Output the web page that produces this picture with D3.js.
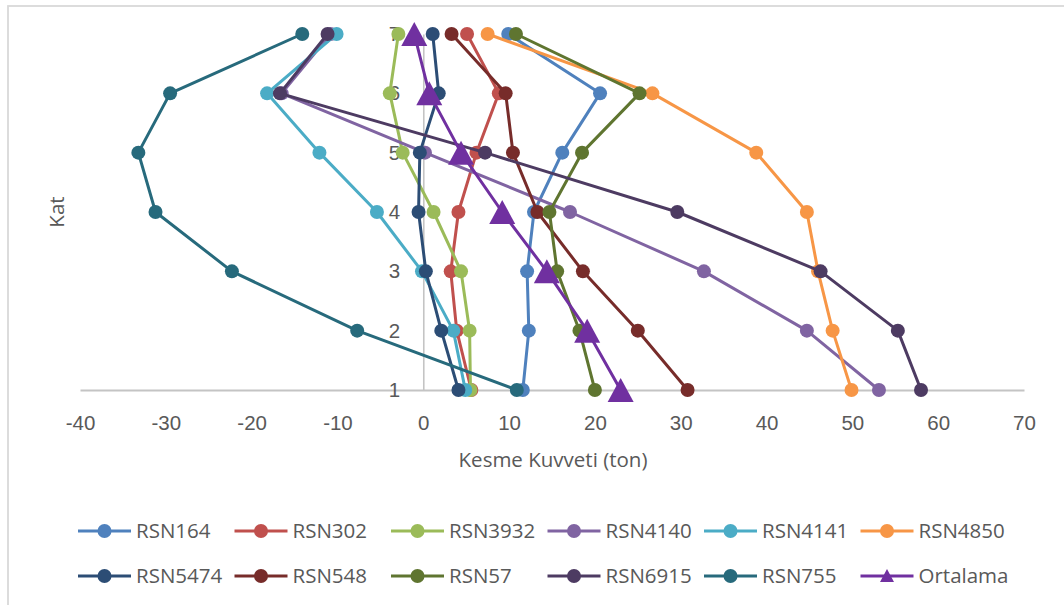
<!DOCTYPE html>
<html>
<head>
<meta charset="utf-8">
<script src="https://cdn.jsdelivr.net/npm/d3@7/dist/d3.min.js"></script>
<style>
  html, body { margin: 0; padding: 0; background: #fff; }
  svg { display: block; font-family: "Open Sans", "Noto Sans", sans-serif; }
</style>
</head>
<body>
<svg id="chart" width="1064" height="605"></svg>
<script>
// Floors (Kat) and shear force per floor (ton), listed from floor 1 to floor 7
const kat = [1, 2, 3, 4, 5, 6, 7];
const xTicks = [-40, -30, -20, -10, 0, 10, 20, 30, 40, 50, 60, 70];

const RSN164  = [11.6, 12.3, 12.1, 12.9, 16.2, 20.6, 9.9];
const RSN302  = [5.6, 3.9, 3.2, 4.1, 6.2, 8.8, 5.1];
const RSN3932 = [5.5, 5.4, 4.4, 1.2, -2.4, -3.9, -2.9];
const RSN4140 = [53.1, 44.7, 32.7, 17.1, 0.2, -16.5, -10.8];
const RSN4141 = [4.9, 3.5, -0.15, -5.4, -12.1, -18.2, -10.1];
const RSN4850 = [49.9, 47.7, 46.0, 44.7, 38.8, 26.7, 7.5];
const RSN5474 = [4.1, 2.1, 0.3, -0.55, -0.4, 1.8, 1.1];
const RSN548  = [30.8, 25.0, 18.6, 13.3, 10.45, 9.6, 3.3];
const RSN57   = [20.0, 18.2, 15.6, 14.7, 18.5, 25.2, 10.8];
const RSN6915 = [58.0, 55.3, 46.3, 29.6, 7.2, -16.7, -11.15];
const RSN755  = [10.9, -7.7, -22.3, -31.2, -33.2, -29.5, -14.1];
const Ortalama = [23.0, 19.1, 14.4, 9.2, 4.4, 0.7, -1.05];

const seriesNames = ["RSN164", "RSN302", "RSN3932", "RSN4140", "RSN4141", "RSN4850",
                     "RSN5474", "RSN548", "RSN57", "RSN6915", "RSN755", "Ortalama"];
const seriesValues = [RSN164, RSN302, RSN3932, RSN4140, RSN4141, RSN4850,
                      RSN5474, RSN548, RSN57, RSN6915, RSN755, Ortalama];
const seriesColors = ["#4F81BD", "#C0504D", "#9BBB59", "#8064A2", "#4BACC6", "#F79646",
                      "#2C4D75", "#772C2A", "#5F7530", "#4D3B62", "#276A7C", "#7030A0"];

const series = seriesNames.map((name, i) => ({
  name,
  color: seriesColors[i],
  triangle: name === "Ortalama",
  points: kat.map((k, j) => ({ kat: k, v: seriesValues[i][j] }))
}));

const svg = d3.select("#chart");
const textColor = "#595959";
const axisColor = "#C4C4C4";
const fontSize = 20.5;
const plainNumber = d => String(d);   // keeps the ASCII hyphen for negatives

// outer chart frame
svg.append("rect")
  .attr("x", 8).attr("y", 6)
  .attr("width", 1200).attr("height", 800)
  .attr("fill", "none")
  .attr("stroke", "#D9D9D9")
  .attr("stroke-width", 1.8);

const x = d3.scaleLinear().domain([-40, 70]).range([80, 1024]);
const y = d3.scaleLinear().domain([1, 7]).range([390, 34]);

// horizontal axis (at floor 1) with labels below
const gx = svg.append("g")
  .attr("transform", `translate(0,${y(1)})`)
  .call(d3.axisBottom(x).tickValues(xTicks).tickSize(0).tickSizeOuter(0).tickPadding(25)
        .tickFormat(plainNumber));
gx.select(".domain").attr("stroke", axisColor).attr("stroke-width", 2);
gx.selectAll("text").attr("fill", textColor).attr("font-size", fontSize);

// vertical axis crossing at zero
const gy = svg.append("g")
  .attr("transform", `translate(${x(0)},0)`)
  .call(d3.axisLeft(y).tickValues(kat).tickSize(0).tickSizeOuter(0).tickPadding(23)
        .tickFormat(plainNumber));
gy.select(".domain").attr("stroke", axisColor).attr("stroke-width", 1.6);
gy.selectAll("text").attr("fill", textColor).attr("font-size", fontSize);

// axis titles
svg.append("text")
  .attr("x", 553).attr("y", 467)
  .attr("text-anchor", "middle")
  .attr("fill", textColor).attr("font-size", fontSize)
  .text("Kesme Kuvveti (ton)");

svg.append("text")
  .attr("transform", "translate(64,212) rotate(-90)")
  .attr("text-anchor", "middle")
  .attr("fill", textColor).attr("font-size", fontSize)
  .text("Kat");

const line = d3.line().x(d => x(d.v)).y(d => y(d.kat));
const triSize = { w: 26, h: 24 };
const triPath = `M0,${-triSize.h / 2}L${triSize.w / 2},${triSize.h / 2}L${-triSize.w / 2},${triSize.h / 2}Z`;

const plot = svg.append("g");
series.forEach(s => {
  const g = plot.append("g");
  g.append("path")
    .datum(s.points)
    .attr("d", line)
    .attr("fill", "none")
    .attr("stroke", s.color)
    .attr("stroke-width", 3)
    .attr("stroke-linejoin", "round");
  if (s.triangle) {
    g.selectAll("path.m").data(s.points).join("path")
      .attr("class", "m")
      .attr("d", triPath)
      .attr("transform", d => `translate(${x(d.v)},${y(d.kat)})`)
      .attr("fill", s.color);
  } else {
    g.selectAll("circle").data(s.points).join("circle")
      .attr("cx", d => x(d.v)).attr("cy", d => y(d.kat))
      .attr("r", 7)
      .attr("fill", s.color);
  }
});

// legend: two rows of six
const legend = svg.append("g");
series.forEach((s, i) => {
  const col = i % 6, row = Math.floor(i / 6);
  const lx = 78 + col * 156.5, ly = 531 + row * 45;
  const g = legend.append("g").attr("transform", `translate(${lx},${ly})`);
  g.append("line").attr("x1", 0).attr("x2", 53).attr("y1", 0).attr("y2", 0)
    .attr("stroke", s.color).attr("stroke-width", 3);
  if (s.triangle) {
    g.append("path")
      .attr("d", `M0,-7L7,6L-7,6Z`)
      .attr("transform", "translate(26.5,0)")
      .attr("fill", s.color);
  } else {
    g.append("circle").attr("cx", 26.5).attr("cy", 0).attr("r", 7).attr("fill", s.color);
  }
  g.append("text")
    .attr("x", 58).attr("y", 0)
    .attr("dy", "0.35em")
    .attr("fill", textColor).attr("font-size", fontSize)
    .text(s.name);
});
</script>
</body>
</html>
